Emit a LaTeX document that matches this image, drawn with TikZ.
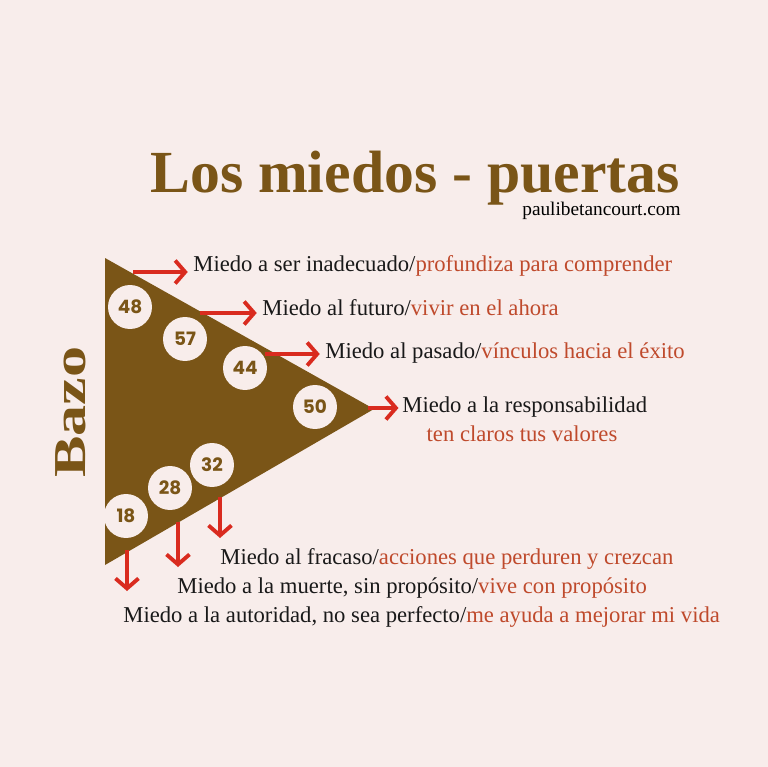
\documentclass[tikz,border=0pt]{standalone}
\usepackage{fontspec}
\setmainfont{Liberation Serif}
\newfontfamily\numfont{Poppins}
\usetikzlibrary{arrows.meta,positioning}
\definecolor{bgpink}{HTML}{F8EDEB}
\definecolor{bazobrown}{HTML}{7A5517}
\definecolor{arrowred}{HTML}{D92B1F}
\definecolor{tipred}{HTML}{BF4A2C}
\newcommand{\tip}[1]{\textcolor{tipred}{#1}}

\begin{document}
\begin{tikzpicture}[x=0.02cm,y=-0.02cm,num/.style={circle,fill=bgpink,minimum size=0.88cm,inner sep=0pt,text=bazobrown,font=\numfont\bfseries\fontsize{10.5}{12}\selectfont},arr/.style={draw=arrowred,line width=2.2pt,-{Straight Barb[length=2mm,width=4.6mm]}},lbl/.style={anchor=base west,inner sep=0pt,text=black!90,font=\fontsize{12.9}{15}\selectfont}]
\fill[bgpink] (0,0) rectangle (768,767);
\useasboundingbox (0,0) rectangle (768,767);
% title
\node[anchor=base east,inner sep=0pt,text=bazobrown,font=\bfseries\fontsize{34}{38}\selectfont] (title) at (680,193) {Los miedos - puertas};
\node[anchor=base east,inner sep=0pt,font=\fontsize{11}{13}\selectfont] (web) at (681,215) {paulibetancourt.com};
\node[rotate=90,inner sep=0pt,text=bazobrown,font=\bfseries\fontsize{26}{30}\selectfont] (bazo) at (71,412) {\scalebox{1.36}[1]{Bazo}};
% triangle
\coordinate (tl) at (105,258);
\coordinate (bl) at (105,565);
\coordinate (tp) at (374,409);
\fill[bazobrown] (tl) -- (tp) -- (bl) -- cycle;
% numbers
\node[num] (n48) at (130,307) {48};
\node[num] (n57) at (185,339) {57};
\node[num] (n44) at (245,368) {44};
\node[num] (n50) at (315,407) {50};
\node[num] (n32) at (212,465) {32};
\node[num] (n28) at (170,488) {28};
\node[num] (n18) at (126,516) {18};
% labels
\node[lbl] (t1) at (193,271) {Miedo a ser inadecuado/\tip{profundiza para comprender}};
\node[lbl] (t2) at (262,315) {Miedo al futuro/\tip{vivir en el ahora}};
\node[lbl] (t3) at (325,358) {Miedo al pasado/\tip{vínculos hacia el éxito}};
\node[lbl] (t4) at (402,412) {Miedo a la responsabilidad};
\node[lbl,anchor=base] (t4b) at (522,441) {\tip{ten claros tus valores}};
\node[lbl] (b1) at (220,564) {Miedo al fracaso/\tip{acciones que perduren y crezcan}};
\node[lbl] (b2) at (177,593) {Miedo a la muerte, sin propósito/\tip{vive con propósito}};
\node[lbl] (b3) at (123,622) {Miedo a la autoridad, no sea perfecto/\tip{me ayuda a mejorar mi vida}};
% arrows
\coordinate (a1) at (133,272);
\coordinate (a2) at (200,313);
\coordinate (a3) at (265,354);
\coordinate (a4) at (368,408);
\draw[arr] (a1) -- ([xshift=-3pt]a1 -| t1.west);
\draw[arr] (a2) -- ([xshift=-3pt]a2 -| t2.west);
\draw[arr] (a3) -- ([xshift=-3pt]a3 -| t3.west);
\draw[arr] (a4) -- ([xshift=-2pt]a4 -| t4.west);
\coordinate (d1) at (220,497);
\coordinate (d2) at (178,522);
\coordinate (d3) at (127,550);
\coordinate (e1) at (220,538);
\coordinate (e2) at (178,567);
\coordinate (e3) at (127,591);
\draw[arr] (d1) -- (e1);
\draw[arr] (d2) -- (e2);
\draw[arr] (d3) -- (e3);
\end{tikzpicture}
\end{document}
